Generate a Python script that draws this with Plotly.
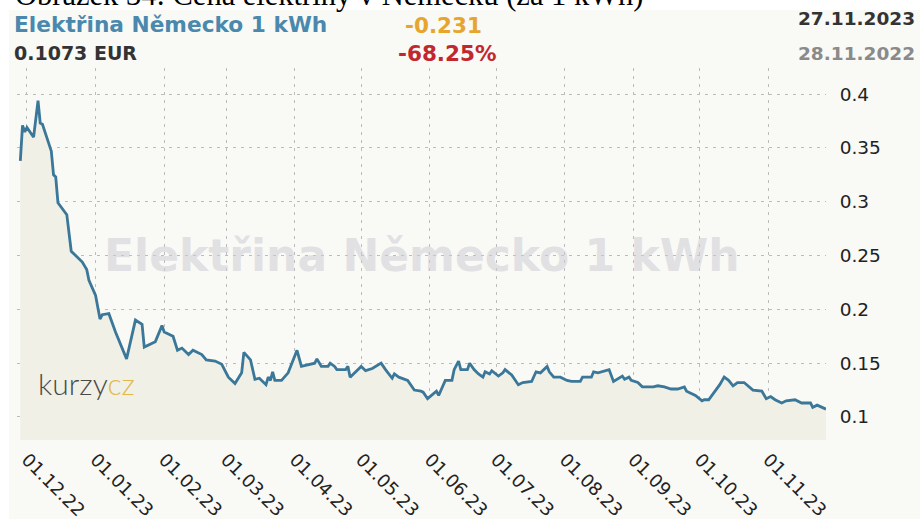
import plotly.graph_objects as go

# ---------------- data ----------------
dates = [
    "2022-11-28", "2022-11-29", "2022-11-30", "2022-12-01", "2022-12-04", "2022-12-06", "2022-12-07",
    "2022-12-08", "2022-12-12", "2022-12-13", "2022-12-14", "2022-12-15", "2022-12-19", "2022-12-21",
    "2022-12-26", "2022-12-28", "2022-12-29",
    "2023-01-01", "2023-01-03", "2023-01-04", "2023-01-07", "2023-01-10", "2023-01-15", "2023-01-19",
    "2023-01-22", "2023-01-23", "2023-01-28", "2023-01-31",
    "2023-02-01", "2023-02-05", "2023-02-07", "2023-02-09", "2023-02-12", "2023-02-14", "2023-02-18",
    "2023-02-20", "2023-02-24", "2023-02-27",
    "2023-03-02", "2023-03-05", "2023-03-08", "2023-03-09", "2023-03-12", "2023-03-14", "2023-03-16",
    "2023-03-19", "2023-03-20", "2023-03-21", "2023-03-22", "2023-03-23", "2023-03-26", "2023-03-29",
    "2023-04-02", "2023-04-04", "2023-04-10", "2023-04-11", "2023-04-13", "2023-04-16", "2023-04-17",
    "2023-04-19", "2023-04-20", "2023-04-24", "2023-04-25", "2023-04-26",
    "2023-05-01", "2023-05-03", "2023-05-06", "2023-05-10", "2023-05-12", "2023-05-15", "2023-05-16",
    "2023-05-18", "2023-05-22", "2023-05-25", "2023-05-28", "2023-05-29", "2023-05-31",
    "2023-06-04", "2023-06-05", "2023-06-08", "2023-06-11", "2023-06-12", "2023-06-14", "2023-06-15",
    "2023-06-18", "2023-06-19", "2023-06-21", "2023-06-23", "2023-06-25", "2023-06-26", "2023-06-28",
    "2023-06-29",
    "2023-07-02", "2023-07-04", "2023-07-05", "2023-07-08", "2023-07-11", "2023-07-13", "2023-07-17",
    "2023-07-19", "2023-07-21", "2023-07-24", "2023-07-25", "2023-07-27", "2023-07-30",
    "2023-08-02", "2023-08-04", "2023-08-08", "2023-08-09", "2023-08-13", "2023-08-14", "2023-08-16",
    "2023-08-21", "2023-08-23", "2023-08-27", "2023-08-28", "2023-08-30", "2023-08-31",
    "2023-09-03", "2023-09-05", "2023-09-10", "2023-09-12", "2023-09-15", "2023-09-18", "2023-09-21",
    "2023-09-24", "2023-09-25", "2023-09-29",
    "2023-10-02", "2023-10-03", "2023-10-05", "2023-10-09", "2023-10-10", "2023-10-12", "2023-10-14",
    "2023-10-16", "2023-10-18", "2023-10-21", "2023-10-25", "2023-10-29", "2023-10-31",
    "2023-11-02", "2023-11-04", "2023-11-07", "2023-11-09", "2023-11-13", "2023-11-16", "2023-11-20",
    "2023-11-21", "2023-11-23", "2023-11-27",
]

prices_eur = [
    0.338, 0.371, 0.365, 0.369, 0.360, 0.394, 0.373, 0.372, 0.347, 0.325, 0.323, 0.299, 0.288, 0.254,
    0.244, 0.237, 0.227,
    0.213, 0.191, 0.195, 0.196, 0.179, 0.154, 0.190, 0.186, 0.165, 0.170, 0.185,
    0.179, 0.175, 0.162, 0.164, 0.158, 0.162, 0.158, 0.153, 0.152, 0.149,
    0.137, 0.131, 0.141, 0.160, 0.153, 0.135, 0.136, 0.130, 0.137, 0.134, 0.142, 0.134, 0.134, 0.141,
    0.162, 0.147, 0.150, 0.154, 0.147, 0.147, 0.150, 0.147, 0.144, 0.144, 0.147, 0.137,
    0.147, 0.143, 0.145, 0.150, 0.144, 0.136, 0.140, 0.137, 0.134, 0.125, 0.124, 0.123, 0.117,
    0.124, 0.120, 0.134, 0.134, 0.144, 0.152, 0.144, 0.144, 0.150, 0.144, 0.140, 0.137, 0.142, 0.140,
    0.143,
    0.138, 0.141, 0.144, 0.139, 0.130, 0.132, 0.133, 0.142, 0.141, 0.147, 0.142, 0.137, 0.137,
    0.134, 0.133, 0.133, 0.137, 0.137, 0.142, 0.141, 0.144, 0.133, 0.138, 0.135, 0.137, 0.134,
    0.132, 0.128, 0.128, 0.129, 0.128, 0.126, 0.126, 0.128, 0.124, 0.120,
    0.115, 0.116, 0.116, 0.127, 0.130, 0.137, 0.134, 0.129, 0.132, 0.132, 0.125, 0.124, 0.117,
    0.119, 0.116, 0.113, 0.115, 0.116, 0.113, 0.113, 0.109, 0.111, 0.1073,
]

x_tick_vals = ["2022-12-01", "2023-01-01", "2023-02-01", "2023-03-01", "2023-04-01", "2023-05-01",
               "2023-06-01", "2023-07-01", "2023-08-01", "2023-09-01", "2023-10-01", "2023-11-01"]
x_tick_text = ["01.12.22", "01.01.23", "01.02.23", "01.03.23", "01.04.23", "01.05.23",
               "01.06.23", "01.07.23", "01.08.23", "01.09.23", "01.10.23", "01.11.23"]
y_tick_vals = [0.1, 0.15, 0.2, 0.25, 0.3, 0.35, 0.4]
y_tick_text = ["0.1", "0.15", "0.2", "0.25", "0.3", "0.35", "0.4"]

caption = "Obrázek 34: Cena elektřiny v Německu (za 1 kWh)"
title_text = "Elektřina Německo 1 kWh"
last_value_text = "0.1073 EUR"
abs_change_text = "-0.231"
pct_change_text = "-68.25%"
last_date_text = "27.11.2023"
first_date_text = "28.11.2022"

# ---------------- layout geometry (pixels) ----------------
W, H = 920, 519
L, R, T, B = 17, 826, 68, 440


def px(x):
    return (x - L) / (R - L)


def py(y):
    return (B - y) / (B - T)


FONT = "DejaVu Sans"
PANEL = "#f9f9f6"

fig = go.Figure()
fig.add_trace(go.Scatter(
    x=dates, y=prices_eur, mode="lines",
    line=dict(color="#3a7798", width=2.8),
    fill="tozeroy", fillcolor="#f0f0e6",
    hoverinfo="x+y", showlegend=False,
))

grid = dict(showgrid=True, gridcolor="#bcbcbc", gridwidth=1.4, griddash="3px,5px")

fig.update_layout(
    width=W, height=H,
    margin=dict(l=L, r=W - R, t=T, b=H - B, pad=0, autoexpand=False),
    paper_bgcolor="white",
    plot_bgcolor="rgba(0,0,0,0)",
    font=dict(family=FONT, color="#222"),
    xaxis=dict(
        type="date", range=["2022-11-26 12:00", "2023-11-27"], automargin=False,
        tickmode="array", tickvals=x_tick_vals, ticktext=x_tick_text,
        tickangle=45, tickfont=dict(family=FONT, size=18, color="#222"),
        ticks="outside", ticklen=1, tickcolor="rgba(0,0,0,0)",
        showline=False, zeroline=False, **grid,
    ),
    yaxis=dict(
        side="right", range=[0.0786, 0.4243], automargin=False,
        tickmode="array", tickvals=y_tick_vals, ticktext=y_tick_text,
        tickfont=dict(family=FONT, size=18.5, color="#222"),
        ticks="outside", ticklen=9, tickcolor="rgba(0,0,0,0)",
        showline=False, zeroline=False, **grid,
    ),
    shapes=[dict(
        type="rect", xref="paper", yref="paper", layer="below",
        x0=px(9), x1=px(W + 5), y0=py(H + 5), y1=py(10),
        fillcolor=PANEL, line=dict(width=0),
    )],
)

ann = []
# caption of the document, clipped at the top
ann.append(dict(text=caption, x=px(13), y=py(14), xanchor="left", yanchor="bottom",
                font=dict(family="Liberation Serif", size=30.5, color="#000")))
# header
ann.append(dict(text="<b>%s</b>" % title_text, x=px(12), y=py(24.5), xanchor="left", yanchor="middle",
                font=dict(family=FONT, size=21.7, color="#4a89ad")))
ann.append(dict(text="<b>%s</b>" % last_value_text, x=px(12), y=py(53), xanchor="left", yanchor="middle",
                font=dict(family=FONT, size=19, color="#333")))
ann.append(dict(text="<b>%s</b>" % abs_change_text, x=px(443), y=py(25), xanchor="center", yanchor="middle",
                font=dict(family=FONT, size=21.5, color="#e6a52c")))
ann.append(dict(text="<b>%s</b>" % pct_change_text, x=px(447), y=py(53), xanchor="center", yanchor="middle",
                font=dict(family=FONT, size=21.5, color="#c1272d")))
ann.append(dict(text="<b>%s</b>" % last_date_text, x=px(917), y=py(19), xanchor="right", yanchor="middle",
                font=dict(family=FONT, size=18.5, color="#333")))
ann.append(dict(text="<b>%s</b>" % first_date_text, x=px(917), y=py(53), xanchor="right", yanchor="middle",
                font=dict(family=FONT, size=18.5, color="#8a8a8a")))
# watermark
ann.append(dict(text="<b>%s</b>" % title_text, x=px(422), y=py(255), xanchor="center", yanchor="middle",
                font=dict(family=FONT, size=44, color="rgba(205,205,212,0.55)")))
# kurzy.cz logo
ann.append(dict(text="kurzy<span style='color:#e2b84c'>cz</span>", x=px(86), y=py(383),
                xanchor="center", yanchor="middle",
                font=dict(family="Lato", size=30, color="#4a4a4a", weight=300)))

for a in ann:
    a.update(xref="paper", yref="paper", showarrow=False)
fig.update_layout(annotations=ann)

fig.write_html("out.html", config={"displayModeBar": False},
               post_script="document.body.style.margin='0px';")
